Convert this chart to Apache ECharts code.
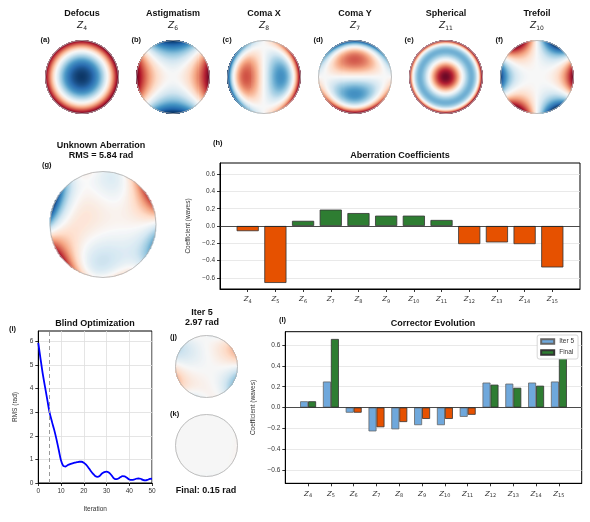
<!DOCTYPE html>
<html>
<head>
<meta charset="utf-8">
<script src="https://cdn.jsdelivr.net/npm/echarts@6/dist/echarts.min.js"></script>
<style>
html, body { margin: 0; padding: 0; background: #fff; }
#chart { width: 590px; height: 522px; }
</style>
</head>
<body>
<div id="chart"></div>
<script>
// Zernike 模式 (Noll) Z4..Z15
let zIndex = [4, 5, 6, 7, 8, 9, 10, 11, 12, 13, 14, 15];
// 未知像差系数 (waves)
let aberration = [-0.06, -0.66, 0.06, 0.19, 0.15, 0.12, 0.12, 0.07, -0.21, -0.19, -0.21, -0.48];
// 校正器: 第5次迭代 / 最终
let iter5Corr = [0.06, 0.25, -0.05, -0.23, -0.21, -0.17, -0.17, -0.09, 0.24, 0.23, 0.24, 0.25];
let finalCorr = [0.06, 0.66, -0.05, -0.19, -0.14, -0.11, -0.11, -0.07, 0.22, 0.19, 0.21, 0.48];
// 盲优化曲线
let rmsIter = [0, 1, 2, 3, 4, 5, 6, 7, 8, 9, 10, 11, 12, 13, 14, 15, 16, 17, 18, 19, 20, 21, 22, 23, 24, 25,
    26, 27, 28, 29, 30, 31, 32, 33, 34, 35, 36, 37, 38, 39, 40, 41, 42, 43, 44, 45, 46, 47, 48, 49, 50];
let rmsValue = [5.94, 5.25, 4.6, 4.05, 3.5, 2.97, 2.6, 2.25, 1.85, 1.4, 0.95, 0.72, 0.7, 0.76, 0.8, 0.83, 0.86, 0.88, 0.9, 0.9, 0.86,
    0.78, 0.66, 0.52, 0.4, 0.3, 0.26, 0.3, 0.4, 0.46, 0.48, 0.44, 0.35, 0.22, 0.16, 0.18, 0.24, 0.29, 0.28, 0.22,
    0.15, 0.13, 0.14, 0.18, 0.19, 0.18, 0.13, 0.11, 0.13, 0.17, 0.18];
// 基本模式
let basisNames = ['Defocus', 'Astigmatism', 'Coma X', 'Coma Y', 'Spherical', 'Trefoil'];
let basisModes = [4, 6, 8, 7, 11, 10];
let panelTags = ['(a)', '(b)', '(c)', '(d)', '(e)', '(f)'];
let snapshotIter = 5;
let rmsUnknown = 5.84, rmsIter5 = 2.97, rmsFinal = 0.15;
let coefTicks = [-0.6, -0.4, -0.2, 0, 0.2, 0.4, 0.6];
let rmsTicks = [0, 1, 2, 3, 4, 5, 6];

let rdbuR = ['#053061', '#2166ac', '#4393c3', '#92c5de', '#d1e5f0', '#f7f7f7', '#fddbc7', '#f4a582', '#d6604d', '#b2182b', '#67001f'];
let green = '#2e7d32', orange = '#e65100', lightBlue = '#6fa8dc';
let fontFam = '"Liberation Sans", Arial, sans-serif';
let mathFam = '"DejaVu Sans", sans-serif';

// Noll Zernike
function zernike(j, x, y) {
    let r2 = x * x + y * y, r = Math.sqrt(r2), t = Math.atan2(y, x);
    switch (j) {
        case 4: return Math.sqrt(3) * (2 * r2 - 1);
        case 5: return Math.sqrt(6) * r2 * Math.sin(2 * t);
        case 6: return Math.sqrt(6) * r2 * Math.cos(2 * t);
        case 7: return Math.sqrt(8) * (3 * r2 * r - 2 * r) * Math.sin(t);
        case 8: return Math.sqrt(8) * (3 * r2 * r - 2 * r) * Math.cos(t);
        case 9: return Math.sqrt(8) * r2 * r * Math.sin(3 * t);
        case 10: return Math.sqrt(8) * r2 * r * Math.cos(3 * t);
        case 11: return Math.sqrt(5) * (6 * r2 * r2 - 6 * r2 + 1);
        case 12: return Math.sqrt(10) * (4 * r2 * r2 - 3 * r2) * Math.cos(2 * t);
        case 13: return Math.sqrt(10) * (4 * r2 * r2 - 3 * r2) * Math.sin(2 * t);
        case 14: return Math.sqrt(10) * r2 * r2 * Math.cos(4 * t);
        case 15: return Math.sqrt(10) * r2 * r2 * Math.sin(4 * t);
    }
    return 0;
}

// 采样网格, 每像素约一格
function pupilMap(coefs, n) {
    let out = [], cell = 2 / n;
    for (let i = 0; i < n; i++) {
        for (let k = 0; k < n; k++) {
            let x = -1 + (i + 0.5) * cell, y = -1 + (k + 0.5) * cell;
            if (x * x + y * y > 1) continue;
            let v = 0;
            zIndex.forEach(function (j, m) { if (coefs[m]) v += coefs[m] * zernike(j, x, y); });
            out.push([x, y, v, cell]);
        }
    }
    return out;
}
function maxAbs(data) {
    let m = 0;
    data.forEach(function (d) { m = Math.max(m, Math.abs(d[2])); });
    return m;
}

// 瞳孔图
let pupils = [];
let topX = [82, 173, 264, 355, 446, 537];
basisModes.forEach(function (j, k) {
    let c = zIndex.map(function (z) { return z === j ? 1 : 0; });
    let d = pupilMap(c, 73);
    pupils.push({ cx: topX[k], cy: 77, R: 36.5, data: d, vmax: maxAbs(d) });
});
let unknownData = pupilMap(aberration, 106);
let unknownMax = maxAbs(unknownData);
pupils.push({ cx: 103, cy: 224.5, R: 53, data: unknownData, vmax: unknownMax });
pupils.push({ cx: 206.5, cy: 366.5, R: 31, data: pupilMap(aberration.map(function (a, i) { return a + iter5Corr[i]; }), 62), vmax: unknownMax });
pupils.push({ cx: 206.5, cy: 445.5, R: 31, data: pupilMap(aberration.map(function (a, i) { return a + finalCorr[i]; }), 62), vmax: unknownMax });

function renderPixel(params, api) {
    let c = api.coord([api.value(0), api.value(1)]);
    let s = api.size([api.value(3), api.value(3)]);
    return {
        type: 'rect',
        shape: { x: c[0] - s[0] / 2 - 0.25, y: c[1] - s[1] / 2 - 0.25, width: s[0] + 0.5, height: s[1] + 0.5 },
        style: { fill: api.visual('color') }
    };
}

let grids = [], xAxes = [], yAxes = [], series = [], visualMaps = [], graphics = [];
pupils.forEach(function (p, k) {
    grids.push({ left: p.cx - p.R, top: p.cy - p.R, width: 2 * p.R, height: 2 * p.R });
    xAxes.push({ type: 'value', gridIndex: k, min: -1, max: 1, show: false });
    yAxes.push({ type: 'value', gridIndex: k, min: -1, max: 1, inverse: true, show: false });
    series.push({ type: 'custom', xAxisIndex: k, yAxisIndex: k, renderItem: renderPixel, data: p.data, silent: true });
    visualMaps.push({ type: 'continuous', show: false, seriesIndex: k, dimension: 2, min: -p.vmax, max: p.vmax, inRange: { color: rdbuR } });
    graphics.push({ type: 'circle', z: 100, shape: { cx: p.cx, cy: p.cy, r: p.R }, style: { fill: 'none', stroke: '#b0b0b0', lineWidth: 0.8 } });
});

// 文本
function text(str, x, y, size, bold, align) {
    return {
        type: 'text', x: x, y: y, z: 100,
        style: { text: str, fontSize: size, fontWeight: bold ? 'bold' : 'normal', fontFamily: fontFam, fill: '#111', align: align || 'center', verticalAlign: 'middle' }
    };
}
let zRichBig = {
    z: { fontSize: 9, fontStyle: 'italic', fontFamily: mathFam, fill: '#222' },
    s: { fontSize: 6, fontFamily: mathFam, fill: '#222', padding: [5, 0, 0, 0] }
};
basisNames.forEach(function (name, k) {
    graphics.push(text(name, topX[k], 14, 9, true));
    graphics.push({ type: 'text', x: topX[k], y: 26, z: 100, style: { text: '{z|Z}{s|' + basisModes[k] + '}', rich: zRichBig, align: 'center', verticalAlign: 'middle' } });
    graphics.push(text(panelTags[k], topX[k] - 41.5, 40, 7.5, true, 'left'));
});
graphics.push(text('Unknown Aberration', 101, 146, 9, true));
graphics.push(text('RMS = ' + rmsUnknown.toFixed(2) + ' rad', 101, 156, 9, true));
graphics.push(text('(g)', 42, 165, 7.5, true, 'left'));
graphics.push(text('Aberration Coefficients', 400, 156, 9, true));
graphics.push(text('(h)', 213, 143, 7.5, true, 'left'));
graphics.push(text('Blind Optimization', 95, 324, 9, true));
graphics.push(text('(i)', 9, 329, 7.5, true, 'left'));
graphics.push(text('Iter ' + snapshotIter, 202, 313, 9, true));
graphics.push(text(rmsIter5.toFixed(2) + ' rad', 202, 323, 9, true));
graphics.push(text('(j)', 170, 337, 7.5, true, 'left'));
graphics.push(text('(k)', 170, 414, 7.5, true, 'left'));
graphics.push(text('Final: ' + rmsFinal.toFixed(2) + ' rad', 206, 491, 9, true));
graphics.push(text('Corrector Evolution', 433, 324, 9, true));
graphics.push(text('(l)', 279, 320, 7.5, true, 'left'));

// 坐标轴公共样式
let zPos = zIndex.map(function (z, i) { return i; });
let zRich = {
    z: { fontSize: 7, fontStyle: 'italic', fontFamily: mathFam, color: '#333' },
    s: { fontSize: 5, fontFamily: mathFam, color: '#333', padding: [4, 0, 0, 0] }
};
function fmt1(v) { return (v < 0 ? '\u2212' : '') + Math.abs(v).toFixed(1); }
function coefXAxis(g) {
    return {
        type: 'value', gridIndex: g, min: -1, max: 12,
        splitLine: { show: false },
        axisLine: { onZero: false, lineStyle: { color: '#000', width: 1 } },
        axisTick: { customValues: zPos, length: 3, lineStyle: { color: '#000', width: 0.8 } },
        axisLabel: { customValues: zPos, margin: 6, formatter: function (v) { return '{z|Z}{s|' + zIndex[v] + '}'; }, rich: zRich }
    };
}
function coefYAxis(g, gap) {
    return {
        type: 'value', gridIndex: g, min: -0.73, max: 0.73,
        axisLine: { show: true, onZero: false, lineStyle: { color: '#000', width: 1 } },
        axisTick: { show: true, customValues: coefTicks, length: 3, lineStyle: { color: '#000', width: 0.8 } },
        axisLabel: { customValues: coefTicks, formatter: fmt1, fontSize: 6.5, fontFamily: fontFam, color: '#333', margin: 5 },
        splitLine: { show: true, lineStyle: { color: '#e3e3e3', width: 0.8 } },
        name: 'Coefficient (waves)', nameLocation: 'middle', nameGap: gap,
        nameTextStyle: { fontSize: 6.5, fontFamily: fontFam, color: '#333' }
    };
}
let zeroLine = {
    silent: true, symbol: ['none', 'none'], label: { show: false },
    lineStyle: { color: '#222', width: 0.8, type: 'solid' },
    data: [{ yAxis: 0 }]
};
let frame = { show: true, borderColor: '#000', borderWidth: 1 };

// (h) 像差系数
grids.push(Object.assign({ left: 220, top: 163, width: 360, height: 126 }, frame));
xAxes.push(coefXAxis(9));
yAxes.push(coefYAxis(9, 27));
series.push({
    type: 'bar', name: 'Aberration', xAxisIndex: 9, yAxisIndex: 9, barWidth: 360 / 13 * 0.8,
    itemStyle: { borderColor: '#333', borderWidth: 0.8 },
    data: aberration.map(function (v, i) { return { value: [i, v], itemStyle: { color: v >= 0 ? green : orange } }; }),
    markLine: zeroLine
});

// (i) 盲优化
grids.push(Object.assign({ left: 38.3, top: 331, width: 113.7, height: 152 }, frame));
xAxes.push({
    type: 'value', gridIndex: 10, min: 0, max: 50, interval: 10,
    splitLine: { show: true, lineStyle: { color: '#dedede', width: 0.8 } },
    axisLine: { onZero: false, lineStyle: { color: '#000', width: 1 } },
    axisTick: { length: 3, lineStyle: { color: '#000', width: 0.8 } },
    axisLabel: { fontSize: 6.5, fontFamily: fontFam, color: '#333', margin: 5 },
    name: 'Iteration', nameLocation: 'middle', nameGap: 23,
    nameTextStyle: { fontSize: 6.5, fontFamily: fontFam, color: '#333' }
});
yAxes.push({
    type: 'value', gridIndex: 10, min: 0, max: 6.44,
    axisLine: { show: true, onZero: false, lineStyle: { color: '#000', width: 1 } },
    axisTick: { show: true, customValues: rmsTicks, length: 3, lineStyle: { color: '#000', width: 0.8 } },
    axisLabel: { customValues: rmsTicks, fontSize: 6.5, fontFamily: fontFam, color: '#333', margin: 5 },
    splitLine: { show: true, lineStyle: { color: '#dedede', width: 0.8 } },
    name: 'RMS (rad)', nameLocation: 'middle', nameGap: 20,
    nameTextStyle: { fontSize: 6.5, fontFamily: fontFam, color: '#333' }
});
series.push({
    type: 'line', name: 'RMS', xAxisIndex: 10, yAxisIndex: 10, showSymbol: false, smooth: 0.3,
    lineStyle: { color: '#0000ff', width: 1.8 },
    data: rmsIter.map(function (x, i) { return [x, rmsValue[i]]; }),
    markLine: {
        silent: true, symbol: ['none', 'none'], label: { show: false },
        lineStyle: { color: '#999', width: 1, type: [4, 3] },
        data: [{ xAxis: snapshotIter }]
    }
});

// (l) 校正器演化
grids.push(Object.assign({ left: 285.3, top: 331.7, width: 296.4, height: 151.6 }, frame));
xAxes.push(coefXAxis(11));
yAxes.push(coefYAxis(11, 27));
let lBar = 296.4 / 13 * 0.35;
series.push({
    type: 'bar', name: 'Iter 5', xAxisIndex: 11, yAxisIndex: 11, barWidth: lBar, barGap: '0%',
    itemStyle: { color: lightBlue, borderColor: '#666', borderWidth: 0.8 },
    data: iter5Corr.map(function (v, i) { return [i, v]; }),
    markLine: zeroLine
});
series.push({
    type: 'bar', name: 'Final', xAxisIndex: 11, yAxisIndex: 11, barWidth: lBar, barGap: '0%',
    itemStyle: { color: green, borderColor: '#333', borderWidth: 0.8 },
    data: finalCorr.map(function (v, i) { return { value: [i, v], itemStyle: { color: v >= 0 ? green : orange } }; })
});

let chart = echarts.init(document.getElementById('chart'), null, { renderer: 'canvas' });
chart.setOption({
    animation: false,
    backgroundColor: '#fff',
    grid: grids,
    xAxis: xAxes,
    yAxis: yAxes,
    visualMap: visualMaps,
    legend: {
        data: ['Iter 5', 'Final'], right: 12, top: 335, orient: 'vertical',
        icon: 'rect', itemWidth: 13, itemHeight: 4.5, itemGap: 4,
        textStyle: { fontSize: 6.5, fontFamily: fontFam, color: '#333' },
        borderColor: '#ccc', borderWidth: 0.8, borderRadius: 2, padding: [3, 4, 3, 3],
        backgroundColor: '#fff', z: 20
    },
    graphic: graphics,
    series: series
});
</script>
</body>
</html>
